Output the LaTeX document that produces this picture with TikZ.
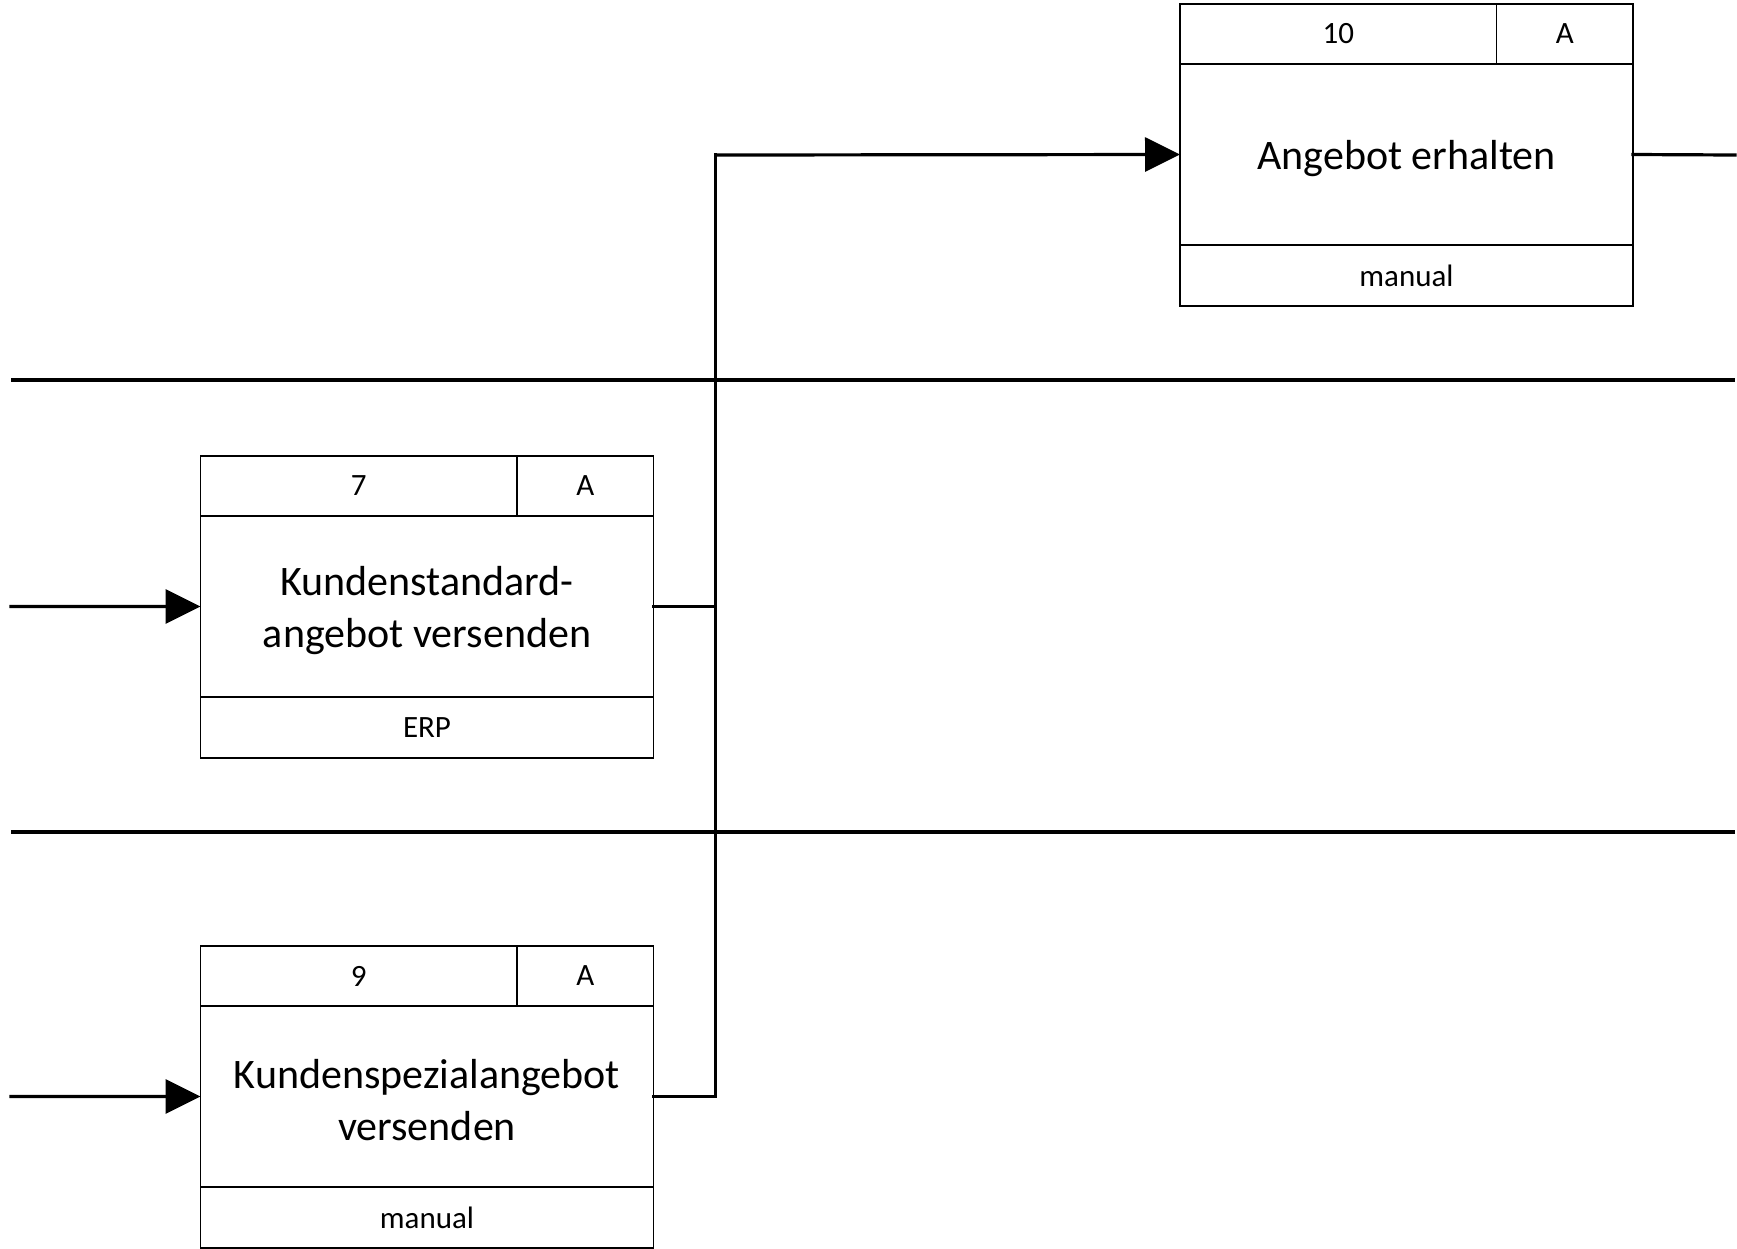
\documentclass[tikz,border=0pt]{standalone}
\usepackage{fontspec}
\setmainfont{Carlito}
\usetikzlibrary{arrows.meta}
\tikzset{
  cell/.style={draw, line width=1.8bp, inner sep=0pt, outer sep=0pt, anchor=north west,
               font=\fontsize{31bp}{37bp}\selectfont, text=black},
  bodycell/.style={cell},
  bodytext/.style={align=center, inner sep=0pt, font=\fontsize{42bp}{52bp}\selectfont, text=black},
  conn/.style={line width=3.2bp, line cap=rect},
  arr/.style={conn, -{Triangle[length=35bp, width=34bp]}},
  lane/.style={line width=4.5bp},
}
\newcommand{\procbox}[6]{%
  \node[cell, minimum width=316.5bp, minimum height=60bp] (#1-n) at (#2,#3) {#4};
  \node[cell, minimum width=136.5bp, minimum height=60bp] (#1-a) at (#1-n.north east) {A};
  \node[bodycell, minimum width=453bp, minimum height=181bp] (#1) at (#1-n.south west) {};
  \node[bodytext] (#1-t) at ([yshift=-4bp]#1.center) {#5};
  \node[cell, minimum width=453bp, minimum height=61bp] (#1-f) at (#1.south west) {#6};
}
\begin{document}
\begin{tikzpicture}[x=1bp, y=-1bp]
\useasboundingbox (0,0) rectangle (1737,1248);
% lanes
\coordinate (l1a) at (11,380);  \coordinate (l1b) at (1735,380);
\coordinate (l2a) at (11,832);  \coordinate (l2b) at (1735,832);
\draw[lane] (l1a) -- (l1b);
\draw[lane] (l2a) -- (l2b);
% boxes
\procbox{b10}{1180}{4}{10}{Angebot erhalten}{manual}
\procbox{b7}{200.5}{456}{7}{Kundenstandard-\\angebot versenden}{ERP}
\procbox{b9}{200.5}{946}{9}{Kundenspezialangebot\\versenden}{manual}
% connectors
\coordinate (j) at (715.6,155);
\coordinate (in7) at (11,606.5);
\coordinate (in9) at (11,1096.5);
\coordinate (out10) at (1735,155);
\draw[conn] (b9.east) -| (j);
\draw[conn] (b7.east) -- (b7.east -| j);
\draw[arr] (j) -- (b10.west);
\draw[arr] (in7) -- (b7.west);
\draw[arr] (in9) -- (b9.west);
\draw[conn] (b10.east) -- (out10);
\end{tikzpicture}
\end{document}
